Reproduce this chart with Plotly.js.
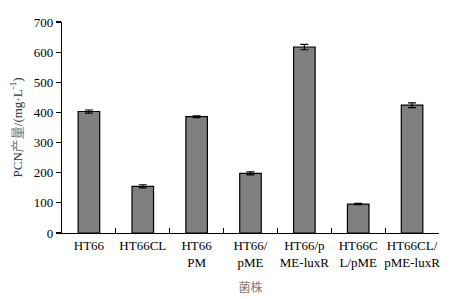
<!DOCTYPE html>
<html>
<head>
<meta charset="utf-8">
<script src="https://cdn.plot.ly/plotly-3.0.1.min.js"></script>
<style>html,body{margin:0;padding:0;background:#fff;}#chart{width:454px;height:299px;}</style>
</head>
<body>
<div id="chart"></div>
<script>
const strains = ["HT66", "HT66CL", "HT66<br>PM", "HT66/<br>pME", "HT66/p<br>ME-luxR", "HT66C<br>L/pME", "HT66CL/<br>pME-luxR"];
const pcnValues = [403, 155, 386, 198, 617, 96, 424];
const pcnErrors = [5, 5, 3, 5, 9, 2, 8];
const yTicks = [0, 100, 200, 300, 400, 500, 600, 700];

const serif = "Liberation Serif, Times New Roman, serif";

Plotly.newPlot("chart", [{
  type: "bar",
  x: strains,
  y: pcnValues,
  width: 0.4,
  marker: {color: "#808080", line: {color: "#000", width: 1.2}},
  error_y: {type: "data", array: pcnErrors, visible: true, color: "#000", thickness: 1.2, width: 4}
}], {
  width: 454, height: 299,
  margin: {l: 62, r: 15, t: 22, b: 66},
  paper_bgcolor: "#fff", plot_bgcolor: "#fff",
  showlegend: false,
  xaxis: {
    type: "category",
    tickangle: 0,
    showline: true, linecolor: "#000", linewidth: 1.2,
    ticks: "inside", tickson: "boundaries", ticklen: 5, tickcolor: "#000", tickwidth: 1.2,
    tickfont: {family: serif, size: 13, color: "#000"},
    showgrid: false, zeroline: false,
    automargin: false,
    title: {text: "菌株", font: {family: "Noto Sans CJK SC", size: 12, color: "#8c7b70"}, standoff: 14}
  },
  yaxis: {
    range: [0, 700],
    tickvals: yTicks,
    showline: true, linecolor: "#000", linewidth: 1.2,
    ticks: "outside", ticklen: 5, tickcolor: "#000", tickwidth: 1.2,
    tickfont: {family: serif, size: 13, color: "#000"},
    showgrid: false, zeroline: false,
    title: {text: "PCN<span style='color:#777'>产量</span>/(mg·L<sup>-1</sup>)", font: {family: serif + ", Noto Sans CJK SC", size: 13, color: "#333"}, standoff: 8}
  }
}, {staticPlot: true});
</script>
</body>
</html>
